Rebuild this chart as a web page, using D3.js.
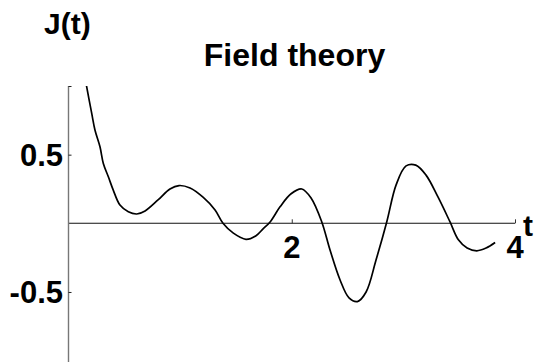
<!DOCTYPE html>
<html>
<head>
<meta charset="utf-8">
<script src="https://cdn.jsdelivr.net/npm/d3@7"></script>
<style>
  html, body { margin: 0; padding: 0; background: #fff; }
  svg { display: block; }
  text { font-family: "Liberation Sans", Arial, Helvetica, sans-serif; font-weight: bold; fill: #000; }
</style>
</head>
<body>
<svg id="chart" width="540" height="362"></svg>
<script>
// Time samples t and response J(t)
const tValues = [0.14, 0.163, 0.208, 0.237, 0.282, 0.312, 0.357, 0.401, 0.461, 0.536, 0.611, 0.686,
  0.802, 0.909, 0.99, 1.089, 1.205, 1.313, 1.384, 1.474, 1.59, 1.68, 1.743, 1.806, 1.895, 1.994,
  2.09, 2.173, 2.269, 2.343, 2.433, 2.513, 2.588, 2.666, 2.755, 2.851, 2.935, 3.024, 3.111, 3.203,
  3.311, 3.418, 3.493, 3.571, 3.658, 3.741, 3.822];
const jValues = [1.1, 0.993, 0.80, 0.679, 0.557, 0.436, 0.339, 0.242, 0.133, 0.084, 0.068, 0.09,
  0.17, 0.25, 0.275, 0.257, 0.19, 0.097, 0.0, -0.07, -0.117, -0.09, -0.04, 0.01, 0.12, 0.215,
  0.25, 0.184, 0.01, -0.195, -0.413, -0.543, -0.57, -0.5, -0.267, 0.01, 0.28, 0.418, 0.424, 0.351,
  0.19, 0.01, -0.12, -0.18, -0.2, -0.18, -0.14];
const xTicks = [2, 4];
const xTickLabels = ["2", "4"];
const yTicks = [0.5, -0.5];
const yTickLabels = ["0.5", "-0.5"];
const titleText = "Field theory";
const xAxisLabel = "t";
const yAxisLabel = "J(t)";

const svg = d3.select("#chart");

const x = d3.scaleLinear().domain([0, 4]).range([68.5, 515]);
const y = d3.scaleLinear().domain([-1.01, 1.0]).range([362, 86]);

// Clip the curve to the plotting region
svg.append("clipPath").attr("id", "plotClip")
  .append("rect")
  .attr("x", x(0)).attr("y", y(1.0))
  .attr("width", x(4) - x(0) + 10).attr("height", y(-1.01) - y(1.0));

// Horizontal axis through zero
const xAxis = d3.axisTop(x).tickValues(xTicks).tickSize(4).tickFormat(() => "");
const gx = svg.append("g").attr("transform", `translate(0,${y(0)})`).call(xAxis);
gx.select(".domain").attr("stroke", "#111").attr("stroke-width", 1.1).attr("d", `M${x(0)},0H${x(4)}`);
gx.selectAll(".tick line").attr("stroke", "#333");

// Vertical axis through t = 0
const yAxis = d3.axisRight(y).tickValues(yTicks.concat([1.0])).tickSize(3).tickFormat(() => "");
const gy = svg.append("g").attr("transform", `translate(${x(0)},0)`).call(yAxis);
gy.select(".domain").attr("stroke", "#777").attr("stroke-width", 1.4).attr("d", `M0,${y(1.0)}V${y(-1.01)}`);
gy.selectAll(".tick line").attr("stroke", "#222");

// Tick labels
svg.selectAll(".xlab").data(xTicks).enter().append("text")
  .attr("class", "xlab")
  .attr("x", d => x(d)).attr("y", 258)
  .attr("text-anchor", "middle").attr("font-size", 31)
  .text((d, i) => xTickLabels[i]);

svg.selectAll(".ylab").data(yTicks).enter().append("text")
  .attr("class", "ylab")
  .attr("x", 63).attr("y", d => y(d) + 11)
  .attr("text-anchor", "end").attr("font-size", 31)
  .text((d, i) => yTickLabels[i]);

// Axis names and title
svg.append("text").attr("x", 523).attr("y", 236).attr("font-size", 30).text(xAxisLabel);
svg.append("text").attr("x", 44).attr("y", 34).attr("font-size", 30).text(yAxisLabel);
svg.append("text").attr("x", 294.5).attr("y", 66).attr("text-anchor", "middle")
  .attr("font-size", 32).text(titleText);

// The response curve
const pts = tValues.map((t, i) => [t, jValues[i]]);
const line = d3.line().x(d => x(d[0])).y(d => y(d[1])).curve(d3.curveCatmullRom.alpha(0.5));
svg.append("path")
  .datum(pts)
  .attr("clip-path", "url(#plotClip)")
  .attr("fill", "none").attr("stroke", "#000").attr("stroke-width", 1.7)
  .attr("stroke-linejoin", "round")
  .attr("d", line);
</script>
</body>
</html>
